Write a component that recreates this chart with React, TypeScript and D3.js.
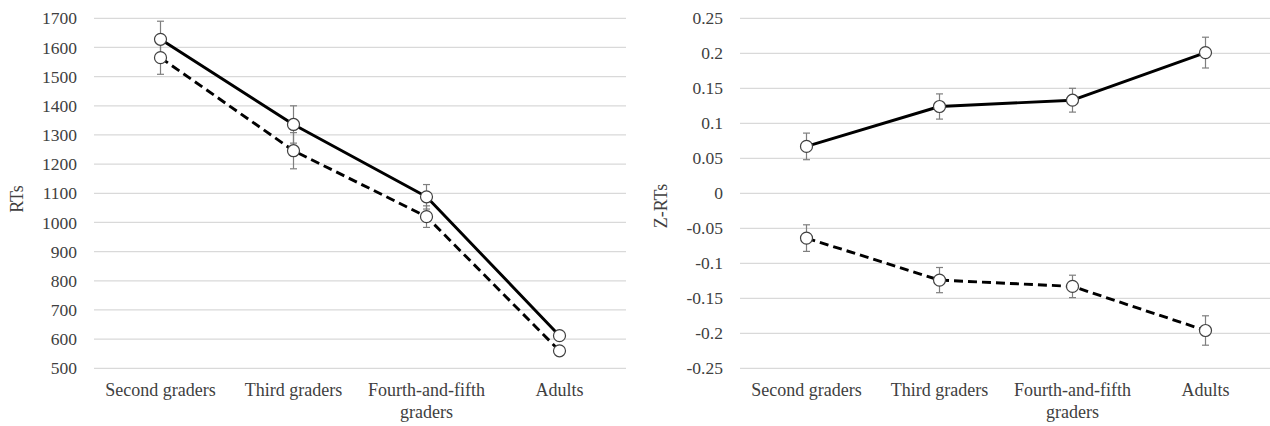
import React from "react";
import * as d3 from "d3";

const categories = ["Second graders", "Third graders", "Fourth-and-fifth graders", "Adults"];
const categoryLines = [["Second graders"], ["Third graders"], ["Fourth-and-fifth", "graders"], ["Adults"]];

const rtSolid = [1628, 1336, 1088, 612];
const rtSolidErr = [62, 64, 42, 12];
const rtDashed = [1565, 1246, 1020, 560];
const rtDashedErr = [57, 62, 37, 12];
const rtTicks = [500, 600, 700, 800, 900, 1000, 1100, 1200, 1300, 1400, 1500, 1600, 1700];
const rtTickLabels = ["500", "600", "700", "800", "900", "1000", "1100", "1200", "1300", "1400", "1500", "1600", "1700"];

const zSolid = [0.067, 0.124, 0.133, 0.201];
const zSolidErr = [0.019, 0.018, 0.017, 0.022];
const zDashed = [-0.064, -0.124, -0.133, -0.196];
const zDashedErr = [0.019, 0.018, 0.016, 0.021];
const zTicks = [-0.25, -0.2, -0.15, -0.1, -0.05, 0, 0.05, 0.1, 0.15, 0.2, 0.25];
const zTickLabels = ["-0.25", "-0.2", "-0.15", "-0.1", "-0.05", "0", "0.05", "0.1", "0.15", "0.2", "0.25"];

const FONT = "'Liberation Serif', 'Times New Roman', serif";

type PanelProps = {
  x0: number; x1: number; yTop: number; yBot: number;
  domain: [number, number]; ticks: number[]; tickLabels: string[];
  tickX: number; title: string; titleX: number; titleY: number;
  solid: number[]; solidErr: number[]; dashed: number[]; dashedErr: number[];
};

function Panel(p: PanelProps) {
  const x = d3.scaleBand<string>().domain(categories).range([p.x0, p.x1]);
  const y = d3.scaleLinear().domain(p.domain).range([p.yBot, p.yTop]);
  const cx = (c: string) => (x(c) as number) + x.bandwidth() / 2;
  const line = d3.line<number>().x((_, i) => cx(categories[i])).y((d) => y(d));
  const series = [
    { vals: p.solid, err: p.solidErr, dash: undefined as string | undefined },
    { vals: p.dashed, err: p.dashedErr, dash: "9,5" },
  ];
  return (
    <g>
      {p.ticks.map((t, i) => (
        <g key={i}>
          <line x1={p.x0} x2={p.x1} y1={y(t)} y2={y(t)} stroke="#d9d9d9" strokeWidth={1.2} />
          <text x={p.tickX} y={y(t)} dy="0.35em" textAnchor="end" fontSize={17.5} fill="#404040" fontFamily={FONT}>
            {p.tickLabels[i]}
          </text>
        </g>
      ))}
      {categories.map((c, i) => (
        <text key={c} textAnchor="middle" fontSize={18} fill="#404040" fontFamily={FONT}>
          {categoryLines[i].map((ln, j) => (
            <tspan key={j} x={cx(c)} y={396 + j * 21.5}>{ln}</tspan>
          ))}
        </text>
      ))}
      <text transform={`translate(${p.titleX},${p.titleY}) rotate(-90)`} textAnchor="middle" dy="0.35em"
        fontSize={18} fill="#404040" fontFamily={FONT}>{p.title}</text>
      {series.map((s, k) => (
        <path key={k} d={line(s.vals) as string} fill="none" stroke="#000" strokeWidth={2.9}
          strokeDasharray={s.dash} strokeLinejoin="round" />
      ))}
      {series.map((s, k) => (
        <g key={"e" + k}>
          {s.vals.map((v, i) => {
            const xc = cx(categories[i]);
            const yt = y(v + s.err[i]);
            const yb = y(v - s.err[i]);
            return (
              <g key={i} stroke="#7f7f7f" strokeWidth={1.2}>
                <line x1={xc} x2={xc} y1={yt} y2={yb} />
                <line x1={xc - 3.5} x2={xc + 3.5} y1={yt} y2={yt} />
                <line x1={xc - 3.5} x2={xc + 3.5} y1={yb} y2={yb} />
              </g>
            );
          })}
        </g>
      ))}
      {series.map((s, k) => (
        <g key={"m" + k}>
          {s.vals.map((v, i) => (
            <circle key={i} cx={cx(categories[i])} cy={y(v)} r={6} fill="#fff" stroke="#404040" strokeWidth={1.2} />
          ))}
        </g>
      ))}
    </g>
  );
}

export default function App() {
  return (
    <div style={{ position: "absolute", left: 0, top: 0 }}>
      <svg width={1270} height={426} style={{ display: "block", background: "#fff" }}>
        <Panel x0={94} x1={626} yTop={18.3} yBot={368.3} domain={[500, 1700]} ticks={rtTicks}
          tickLabels={rtTickLabels} tickX={77} title="RTs" titleX={17} titleY={199}
          solid={rtSolid} solidErr={rtSolidErr} dashed={rtDashed} dashedErr={rtDashedErr} />
        <Panel x0={740} x1={1272} yTop={18.3} yBot={368.3} domain={[-0.25, 0.25]} ticks={zTicks}
          tickLabels={zTickLabels} tickX={723} title="Z-RTs" titleX={661} titleY={206}
          solid={zSolid} solidErr={zSolidErr} dashed={zDashed} dashedErr={zDashedErr} />
      </svg>
    </div>
  );
}
